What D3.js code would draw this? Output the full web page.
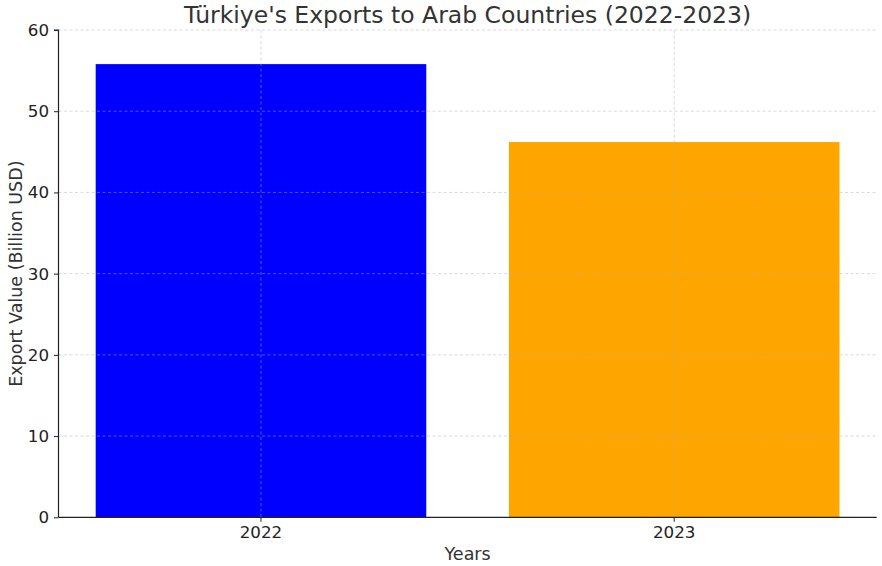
<!DOCTYPE html>
<html><head><meta charset="utf-8">
<script src="https://cdn.jsdelivr.net/npm/d3@7"></script>
<style>body{margin:0;background:#fff}svg{display:block}text{font-family:"DejaVu Sans",sans-serif}</style>
</head><body><svg id="c" width="882" height="566"></svg>
<script>
const years = ["2022", "2023"];
const exportValues = [55.8, 46.2];
const barColors = ["#0000ff", "#ffa500"];
const yTicks = [0, 10, 20, 30, 40, 50, 60];

const svg = d3.select("#c");
const L = 58.5, R = 876.7, T = 30, B = 517.3;
const x = d3.scaleBand().domain(years).range([L, R]).paddingInner(0.2).paddingOuter(0.09);
const y = d3.scaleLinear().domain([0, 60]).range([B, T]);

// bars
svg.append("g").selectAll("rect").data(years).join("rect")
  .attr("x", d => x(d)).attr("width", x.bandwidth())
  .attr("y", (d, i) => y(exportValues[i])).attr("height", (d, i) => y(0) - y(exportValues[i]))
  .attr("fill", (d, i) => barColors[i]);

// grid
const grid = svg.append("g").attr("stroke", "#b0b0b0").attr("stroke-opacity", 0.6).attr("stroke-dasharray", "3,2.5").attr("stroke-width", 0.8);
grid.selectAll("line.h").data(yTicks.filter(t => t > 0)).join("line").attr("class", "h")
  .attr("x1", L).attr("x2", R).attr("y1", d => y(d)).attr("y2", d => y(d));
grid.selectAll("line.v").data(years).join("line").attr("class", "v")
  .attr("x1", d => x(d) + x.bandwidth() / 2).attr("x2", d => x(d) + x.bandwidth() / 2).attr("y1", T).attr("y2", B);

// axes
const yAxis = svg.append("g").attr("transform", `translate(${L},0)`)
  .call(d3.axisLeft(y).tickValues(yTicks).tickSize(4.5).tickPadding(5));
const xAxis = svg.append("g").attr("transform", `translate(0,${B})`)
  .call(d3.axisBottom(x).tickSize(4.5).tickPadding(4));
[yAxis, xAxis].forEach(a => {
  a.select(".domain").attr("stroke", "#222").attr("stroke-width", 1.2);
  a.selectAll(".tick line").attr("stroke", "#222").attr("stroke-width", 1);
  a.selectAll(".tick text").attr("fill", "#222").style("font-size", "16.7px").style("font-family", "DejaVu Sans");
});
yAxis.select(".domain").attr("d", `M-4.5,${T}H0V${B}`);
xAxis.select(".domain").attr("d", `M${L},0H${R}`);

svg.append("text").attr("x", (L + R) / 2).attr("y", 22.5).attr("text-anchor", "middle")
  .attr("fill", "#333").style("font-size", "23.5px").text("Türkiye's Exports to Arab Countries (2022-2023)");
svg.append("text").attr("x", (L + R) / 2).attr("y", 560).attr("text-anchor", "middle")
  .attr("fill", "#333").style("font-size", "17.5px").text("Years");
svg.append("text").attr("transform", `translate(21.5,${(T + B) / 2}) rotate(-90)`).attr("text-anchor", "middle")
  .attr("fill", "#333").style("font-size", "17.5px").text("Export Value (Billion USD)");
</script></body></html>
